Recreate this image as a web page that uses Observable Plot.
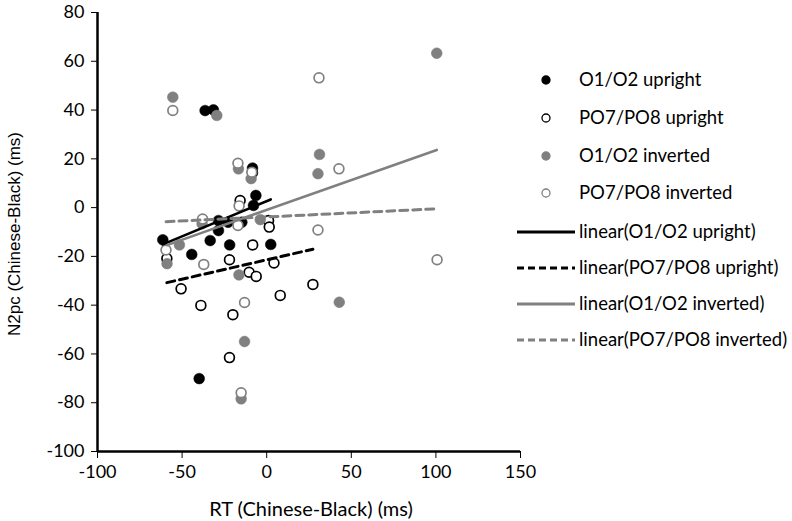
<!DOCTYPE html>
<html>
<head>
<meta charset="utf-8">
<script src="https://cdn.jsdelivr.net/npm/d3@7"></script>
<script src="https://cdn.jsdelivr.net/npm/@observablehq/plot@0.6"></script>
<style>
  html, body { margin: 0; padding: 0; background: #fff; }
  #wrap { position: relative; width: 792px; height: 521px; }
</style>
</head>
<body>
<div id="wrap"></div>
<script>
// ---- data ----
const seriesNames = ["O1/O2 upright", "PO7/PO8 upright", "O1/O2 inverted", "PO7/PO8 inverted"];

const rtO1Up  = [-61.4, -44.3, -39.9, -36.4, -31.5, -33.4, -28.5, -28.5, -22.8, -21.9, -14.7, -8.4, -6.4, -7.8, 2.4];
const n2O1Up  = [-13.2, -19.2, -70.1, 39.8, 40.1, -13.5, -5.3, -9.4, -6.0, -15.3, -6.0, 16.2, 5.0, 0.9, -15.1];

const rtPOUp  = [-50.6, -38.9, -22.0, -20.0, -22.0, -10.4, -6.2, -8.3, 4.3, 8.0, 27.3, -15.7, 1.1, 1.5, -59.0, -8.4];
const n2POUp  = [-33.3, -40.1, -61.5, -43.9, -21.4, -26.5, -28.2, -15.3, -22.7, -36.0, -31.5, 2.9, -5.3, -8.0, -20.9, 14.4];

const rtO1Inv = [-55.5, -29.5, -16.7, -9.2, 31.2, 30.3, 100.5, -38.2, -3.8, -51.6, -58.9, -16.4, -13.1, -15.1, 42.9];
const n2O1Inv = [45.3, 37.8, 15.9, 11.9, 21.8, 13.9, 63.3, -6.6, -4.9, -15.3, -23.0, -27.6, -54.9, -78.4, -38.8];

const rtPOInv = [-55.5, 30.9, -17.0, -8.8, 42.7, -16.3, -37.9, -17.0, 30.3, -59.5, -37.2, -13.1, -15.1, 100.7];
const n2POInv = [39.8, 53.2, 18.2, 14.5, 15.9, 0.7, -4.7, -7.3, -9.2, -17.4, -23.3, -38.9, -75.9, -21.4];

const xTicks = [-100, -50, 0, 50, 100, 150];
const yTicks = [-100, -80, -60, -40, -20, 0, 20, 40, 60, 80];

// ---- tables ----
const mk = (xs, ys) => xs.map((x, i) => ({x, y: ys[i]}));
const dO1Up = mk(rtO1Up, n2O1Up);
const dPOUp = mk(rtPOUp, n2POUp);
const dO1Inv = mk(rtO1Inv, n2O1Inv);
const dPOInv = mk(rtPOInv, n2POInv);

const GRAY = "#808080";
const tickFont = "Lato, 'Open Sans', sans-serif";
const fmt = d => String(d);

const chart = Plot.plot({
  width: 792,
  height: 521,
  marginLeft: 97,
  marginRight: 272,
  marginTop: 12,
  marginBottom: 70,
  style: {fontFamily: tickFont, fontSize: "18px", color: "#000", background: "#fff", overflow: "visible"},
  x: {domain: [-100, 150]},
  y: {domain: [-100, 80]},
  marks: [
    Plot.axisX({ticks: xTicks, tickFormat: fmt, tickSize: 7, tickPadding: 7, tickWidth: 2, fontSize: 18, label: null, stroke: "#000"}),
    Plot.axisY({ticks: yTicks, tickFormat: fmt, tickSize: 6, tickPadding: 7, tickWidth: 2, fontSize: 18, label: null, stroke: "#000"}),
    Plot.ruleY([-100], {stroke: "#000", strokeWidth: 2.5}),
    Plot.ruleX([-100], {stroke: "#000", strokeWidth: 2.5}),
    Plot.dot(dO1Up, {x: "x", y: "y", r: 5.4, fill: "#000", stroke: "#000", strokeWidth: 0.5}),
    Plot.dot(dPOUp, {x: "x", y: "y", r: 4.9, fill: "#fff", stroke: "#000", strokeWidth: 1.7}),
    Plot.dot(dO1Inv, {x: "x", y: "y", r: 5.4, fill: GRAY, stroke: GRAY, strokeWidth: 0.5}),
    Plot.dot(dPOInv, {x: "x", y: "y", r: 4.9, fill: "#fff", stroke: GRAY, strokeWidth: 1.7}),
    Plot.linearRegressionY(dO1Up, {x: "x", y: "y", stroke: "#000", strokeWidth: 2.6, ci: 0}),
    Plot.linearRegressionY(dPOUp, {x: "x", y: "y", stroke: "#000", strokeWidth: 3, strokeDasharray: "8,5", ci: 0}),
    Plot.linearRegressionY(dO1Inv, {x: "x", y: "y", stroke: GRAY, strokeWidth: 2.6, ci: 0}),
    Plot.linearRegressionY(dPOInv, {x: "x", y: "y", stroke: GRAY, strokeWidth: 3, strokeDasharray: "8,5", ci: 0})
  ]
});

document.getElementById("wrap").appendChild(chart);

// axis titles
const svg = d3.select(chart);
svg.append("text")
  .attr("x", 311).attr("y", 516)
  .attr("text-anchor", "middle")
  .style("font-family", tickFont).style("font-size", "20px")
  .text("RT (Chinese-Black) (ms)");
svg.append("text")
  .attr("transform", "translate(20,234) rotate(-90)")
  .attr("text-anchor", "middle")
  .style("font-family", "'Liberation Sans', Arial, sans-serif").style("font-size", "17px")
  .text("N2pc (Chinese-Black) (ms)");

// ---- legend ----
const legendItems = [
  {label: seriesNames[0], kind: "dot", fill: "#000", stroke: "#000", y: 80},
  {label: seriesNames[1], kind: "dot", fill: "#fff", stroke: "#000", y: 118},
  {label: seriesNames[2], kind: "dot", fill: GRAY, stroke: GRAY, y: 156},
  {label: seriesNames[3], kind: "dot", fill: "#fff", stroke: GRAY, y: 193},
  {label: "linear(" + seriesNames[0] + ")", kind: "line", stroke: "#000", dash: null, y: 232},
  {label: "linear(" + seriesNames[1] + ")", kind: "line", stroke: "#000", dash: "7,4", y: 268},
  {label: "linear(" + seriesNames[2] + ")", kind: "line", stroke: GRAY, dash: null, y: 304},
  {label: "linear(" + seriesNames[3] + ")", kind: "line", stroke: GRAY, dash: "7,4", y: 340}
];
const lg = svg.append("g").attr("text-anchor", "start");
legendItems.forEach(it => {
  if (it.kind === "dot") {
    lg.append("circle").attr("cx", 546).attr("cy", it.y).attr("r", 4)
      .attr("fill", it.fill).attr("stroke", it.stroke).attr("stroke-width", 1.3);
  } else {
    lg.append("line").attr("x1", 517).attr("x2", 575).attr("y1", it.y).attr("y2", it.y)
      .attr("stroke", it.stroke).attr("stroke-width", 3)
      .attr("stroke-dasharray", it.dash);
  }
  lg.append("text").attr("x", 579).attr("y", it.y).attr("dy", "0.35em")
    .attr("text-anchor", "start")
    .style("font-family", tickFont).style("font-size", "18.5px")
    .text(it.label);
});
</script>
</body>
</html>
